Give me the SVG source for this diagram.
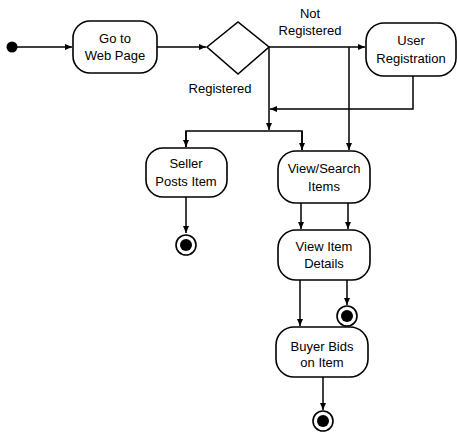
<svg xmlns="http://www.w3.org/2000/svg" width="457" height="432" viewBox="0 0 457 432">
<style>
.box{fill:#fff;stroke:#000;stroke-width:1.6}
.ln{fill:none;stroke:#000;stroke-width:1.5}
.t{font-family:"Liberation Sans",Arial,sans-serif;font-size:13px;fill:#000;text-anchor:middle}
</style>
<defs>
<marker id="ah" markerWidth="8" markerHeight="8" refX="7" refY="4" orient="auto" markerUnits="userSpaceOnUse">
<path d="M0,1 L7,4 L0,7 Z" fill="#000"/>
</marker>
</defs>
<rect width="457" height="432" fill="#fff"/>
<g id="connectors">
<line class="ln" x1="12" y1="47" x2="72" y2="47" marker-end="url(#ah)"/>
<line class="ln" x1="157" y1="47" x2="206" y2="47" marker-end="url(#ah)"/>
<line class="ln" x1="269" y1="47" x2="365" y2="47" marker-end="url(#ah)"/>
<line class="ln" x1="269" y1="47" x2="269" y2="130" marker-end="url(#ah)"/>
<line class="ln" x1="349" y1="47" x2="349" y2="150" marker-end="url(#ah)"/>
<polyline class="ln" points="413,76 413,109 270,109" marker-end="url(#ah)"/>
<polyline class="ln" points="186,147 186,131 302,131 302,150"/>
<line class="ln" x1="186" y1="131" x2="186" y2="147" marker-end="url(#ah)"/>
<line class="ln" x1="302" y1="131" x2="302" y2="150" marker-end="url(#ah)"/>
<line class="ln" x1="186" y1="197" x2="186" y2="233" marker-end="url(#ah)"/>
<line class="ln" x1="301" y1="203" x2="301" y2="229" marker-end="url(#ah)"/>
<line class="ln" x1="348" y1="203" x2="348" y2="229" marker-end="url(#ah)"/>
<line class="ln" x1="300" y1="280" x2="300" y2="326" marker-end="url(#ah)"/>
<line class="ln" x1="347" y1="280" x2="347" y2="305" marker-end="url(#ah)"/>
<line class="ln" x1="323" y1="377" x2="323" y2="410" marker-end="url(#ah)"/>
</g>
<g id="start"><circle cx="12" cy="47" r="5.5" fill="#000"/></g>
<g id="goto">
<rect class="box" x="73" y="21" width="84" height="52" rx="17" ry="17"/>
<text class="t" x="115" y="43">Go to</text>
<text class="t" x="115" y="60">Web Page</text>
</g>
<g id="decision">
<polygon class="box" points="207,47 238,22 269,47 238,74"/>
<text class="t" x="220" y="93">Registered</text>
<text class="t" x="310" y="18">Not</text>
<text class="t" x="310" y="35">Registered</text>
</g>
<g id="userreg">
<rect class="box" x="366" y="23" width="90" height="53" rx="18" ry="18"/>
<text class="t" x="411" y="45">User</text>
<text class="t" x="411" y="63">Registration</text>
</g>
<g id="seller">
<rect class="box" x="146" y="148" width="81" height="49" rx="17" ry="17"/>
<text class="t" x="186" y="168">Seller</text>
<text class="t" x="186" y="186">Posts Item</text>
</g>
<g id="viewsearch">
<rect class="box" x="278" y="151" width="92" height="52" rx="18" ry="18"/>
<text class="t" x="324" y="173">View/Search</text>
<text class="t" x="324" y="191">Items</text>
</g>
<g id="viewdetails">
<rect class="box" x="278" y="230" width="92" height="50" rx="18" ry="18"/>
<text class="t" x="324" y="251">View Item</text>
<text class="t" x="324" y="268">Details</text>
</g>
<g id="buyer">
<rect class="box" x="276" y="327" width="92" height="50" rx="18" ry="18"/>
<text class="t" x="322" y="351">Buyer Bids</text>
<text class="t" x="322" y="367">on Item</text>
</g>
<g id="end1"><circle cx="186" cy="245" r="10" fill="#fff" stroke="#000" stroke-width="1.6"/><circle cx="186" cy="245" r="6" fill="#000"/></g>
<g id="end2"><circle cx="347" cy="316" r="10" fill="#fff" stroke="#000" stroke-width="1.6"/><circle cx="347" cy="316" r="6" fill="#000"/></g>
<g id="end3"><circle cx="323" cy="421" r="10" fill="#fff" stroke="#000" stroke-width="1.6"/><circle cx="323" cy="421" r="6" fill="#000"/></g>
</svg>
